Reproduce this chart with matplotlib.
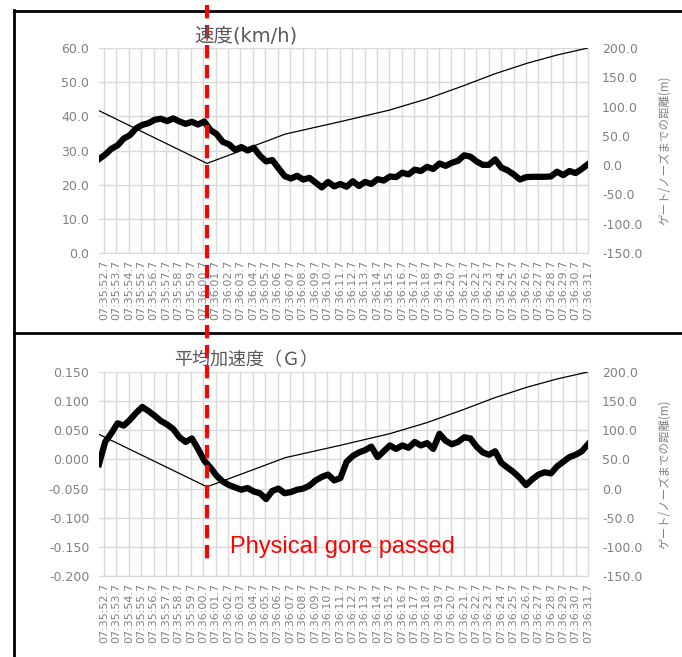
import numpy as np
import matplotlib
matplotlib.use("Agg")
import matplotlib.pyplot as plt
from matplotlib.lines import Line2D
from matplotlib.ticker import FormatStrFormatter
from matplotlib.transforms import blended_transform_factory

plt.rcParams["axes.unicode_minus"] = False
plt.rcParams["font.family"] = ["DejaVu Sans", "Noto Sans CJK JP"]

# x tick labels, one per second
time_labels = [
    "07:35:52.7", "07:35:53.7", "07:35:54.7", "07:35:55.7", "07:35:56.7",
    "07:35:57.7", "07:35:58.7", "07:35:59.7", "07:36:00.7", "07:36:01.7",
    "07:36:02.7", "07:36:03.7", "07:36:04.7", "07:36:05.7", "07:36:06.7",
    "07:36:07.7", "07:36:08.7", "07:36:09.7", "07:36:10.7", "07:36:11.7",
    "07:36:12.7", "07:36:13.7", "07:36:14.7", "07:36:15.7", "07:36:16.7",
    "07:36:17.7", "07:36:18.7", "07:36:19.7", "07:36:20.7", "07:36:21.7",
    "07:36:22.7", "07:36:23.7", "07:36:24.7", "07:36:25.7", "07:36:26.7",
    "07:36:27.7", "07:36:28.7", "07:36:29.7", "07:36:30.7", "07:36:31.7",
]

# sample times (s after 07:35:52.7), roughly every 0.5 s
sample_t = np.linspace(-0.4, 39.0, 80)

speed_kmh = [
    27.5, 28.8, 30.5, 31.5, 33.5, 34.5, 36.5, 37.5, 38.0, 39.0,
    39.3, 38.6, 39.4, 38.5, 37.8, 38.4, 37.6, 38.5, 36.0, 34.8,
    32.5, 31.8, 30.2, 31.0, 30.0, 30.8, 28.5, 26.8, 27.2, 24.8,
    22.5, 21.8, 22.6, 21.5, 22.0, 20.6, 19.2, 20.8, 19.5, 20.2,
    19.4, 21.0, 19.6, 20.8, 20.2, 21.6, 21.2, 22.4, 22.2, 23.5,
    23.0, 24.4, 24.0, 25.2, 24.6, 26.2, 25.5, 26.4, 27.0, 28.6,
    28.2, 26.8, 25.8, 25.8, 27.4, 25.0, 24.2, 23.0, 21.5, 22.2,
    22.3, 22.3, 22.3, 22.4, 23.8, 22.8, 24.0, 23.4, 24.6, 26.0,
]

accel_g = [
    -0.008, 0.030, 0.045, 0.062, 0.058, 0.068, 0.080, 0.090, 0.083, 0.075,
    0.066, 0.060, 0.052, 0.038, 0.030, 0.036, 0.018, -0.002, -0.014, -0.028,
    -0.038, -0.044, -0.048, -0.052, -0.049, -0.055, -0.058, -0.068, -0.054, -0.050,
    -0.058, -0.056, -0.052, -0.050, -0.045, -0.036, -0.030, -0.026, -0.036, -0.032,
    -0.004, 0.006, 0.012, 0.016, 0.022, 0.004, 0.014, 0.024, 0.018, 0.024,
    0.020, 0.030, 0.024, 0.028, 0.018, 0.044, 0.032, 0.026, 0.030, 0.038,
    0.036, 0.022, 0.012, 0.008, 0.014, -0.006, -0.014, -0.022, -0.032, -0.044,
    -0.034, -0.026, -0.022, -0.024, -0.012, -0.004, 0.004, 0.008, 0.014, 0.026,
]

# distance to gate/nose (m)
dist_t = [-0.4, 8.3, 12.6, 14.6, 19.0, 23.0, 26.0, 28.9, 31.5, 34.1, 36.5, 39.0]
dist_m = [93, 3, 37, 53, 74, 94, 113, 135, 156, 174, 188, 200]

speed_ticks = [0, 10, 20, 30, 40, 50, 60]
accel_ticks = [-0.2, -0.15, -0.1, -0.05, 0.0, 0.05, 0.1, 0.15]
dist_ticks = [-150, -100, -50, 0, 50, 100, 150, 200]

gore_t = 8.3

GRAY = "#808080"
GRID = "#d9d9d9"
W, H = 682, 657


def style_panel(ax, ylim, yticks, fmt, title, title_y, title_size):
    ax.set_xlim(-0.4, 39.0)
    ax.set_ylim(*ylim)
    ax.set_yticks(yticks)
    ax.yaxis.set_major_formatter(FormatStrFormatter(fmt))
    ax.set_xticks(range(len(time_labels)))
    ax.set_xticklabels(time_labels, rotation=90, fontsize=8, color=GRAY)
    ax.grid(True, color=GRID, lw=1.0)
    ax.set_axisbelow(True)
    for side in ["top", "left", "right"]:
        ax.spines[side].set_visible(False)
    ax.spines["bottom"].set_color(GRID)
    ax.tick_params(axis="y", length=0, pad=7, labelsize=9, labelcolor=GRAY)
    ax.tick_params(axis="x", length=0, pad=5)
    fig.text(246 / W, 1 - title_y / H, title, ha="center", va="center",
             fontsize=title_size, color="#595959",
             family=["DejaVu Sans", "Noto Sans CJK JP"])

    ax_r = ax.twinx()
    ax_r.plot(dist_t, dist_m, color="black", lw=0.9)
    ax_r.set_ylim(-150, 200)
    ax_r.set_yticks(dist_ticks)
    ax_r.yaxis.set_major_formatter(FormatStrFormatter("%.1f"))
    ax_r.tick_params(axis="y", length=0, pad=10, labelsize=9, labelcolor=GRAY)
    for side in ["top", "left", "bottom"]:
        ax_r.spines[side].set_visible(False)
    ax_r.spines["right"].set_color(GRID)
    ax_r.set_ylabel("ゲート/ノーズまでの距離(m)", fontsize=8.3, color=GRAY,
                    rotation=90, labelpad=11,
                    family=["Noto Sans CJK JP", "DejaVu Sans"])
    return ax_r


fig = plt.figure(figsize=(W / 100, H / 100), dpi=100)

ax1 = fig.add_axes([99 / W, 1 - 253 / H, 489 / W, 205 / H])
ax1.plot(sample_t, speed_kmh, color="black", lw=4.5, solid_joinstyle="round")
style_panel(ax1, (0, 60), speed_ticks, "%.1f", "速度(km/h)", 37, 14)

ax2 = fig.add_axes([99 / W, 1 - 576 / H, 489 / W, 204 / H])
ax2.plot(sample_t, accel_g, color="black", lw=4.5, solid_joinstyle="round")
style_panel(ax2, (-0.2, 0.15), accel_ticks, "%.3f",
            "平均加速度（Ｇ）", 360, 13)

# frame lines of the two chart boxes
frame = dict(color="black", lw=2, transform=fig.transFigure)
fig.add_artist(Line2D([14 / W, 14 / W], [0, 1 - 10 / H], **frame))
fig.add_artist(Line2D([14 / W, 1], [1 - 11 / H, 1 - 11 / H], **frame))
fig.add_artist(Line2D([14 / W, 1], [1 - 333 / H, 1 - 333 / H], **frame))

# physical gore marker
trans = blended_transform_factory(ax1.transData, fig.transFigure)
fig.add_artist(Line2D([gore_t, gore_t], [1 - 5 / H, 1 - 563 / H], color="red",
                      lw=3, ls=(0, (3.2, 1.6)), transform=trans))
fig.text(230 / W, 1 - 553 / H, "Physical gore passed", color="red",
         fontsize=17, family="Liberation Sans", va="baseline")

fig.savefig("out.png", dpi=100, facecolor="white")
